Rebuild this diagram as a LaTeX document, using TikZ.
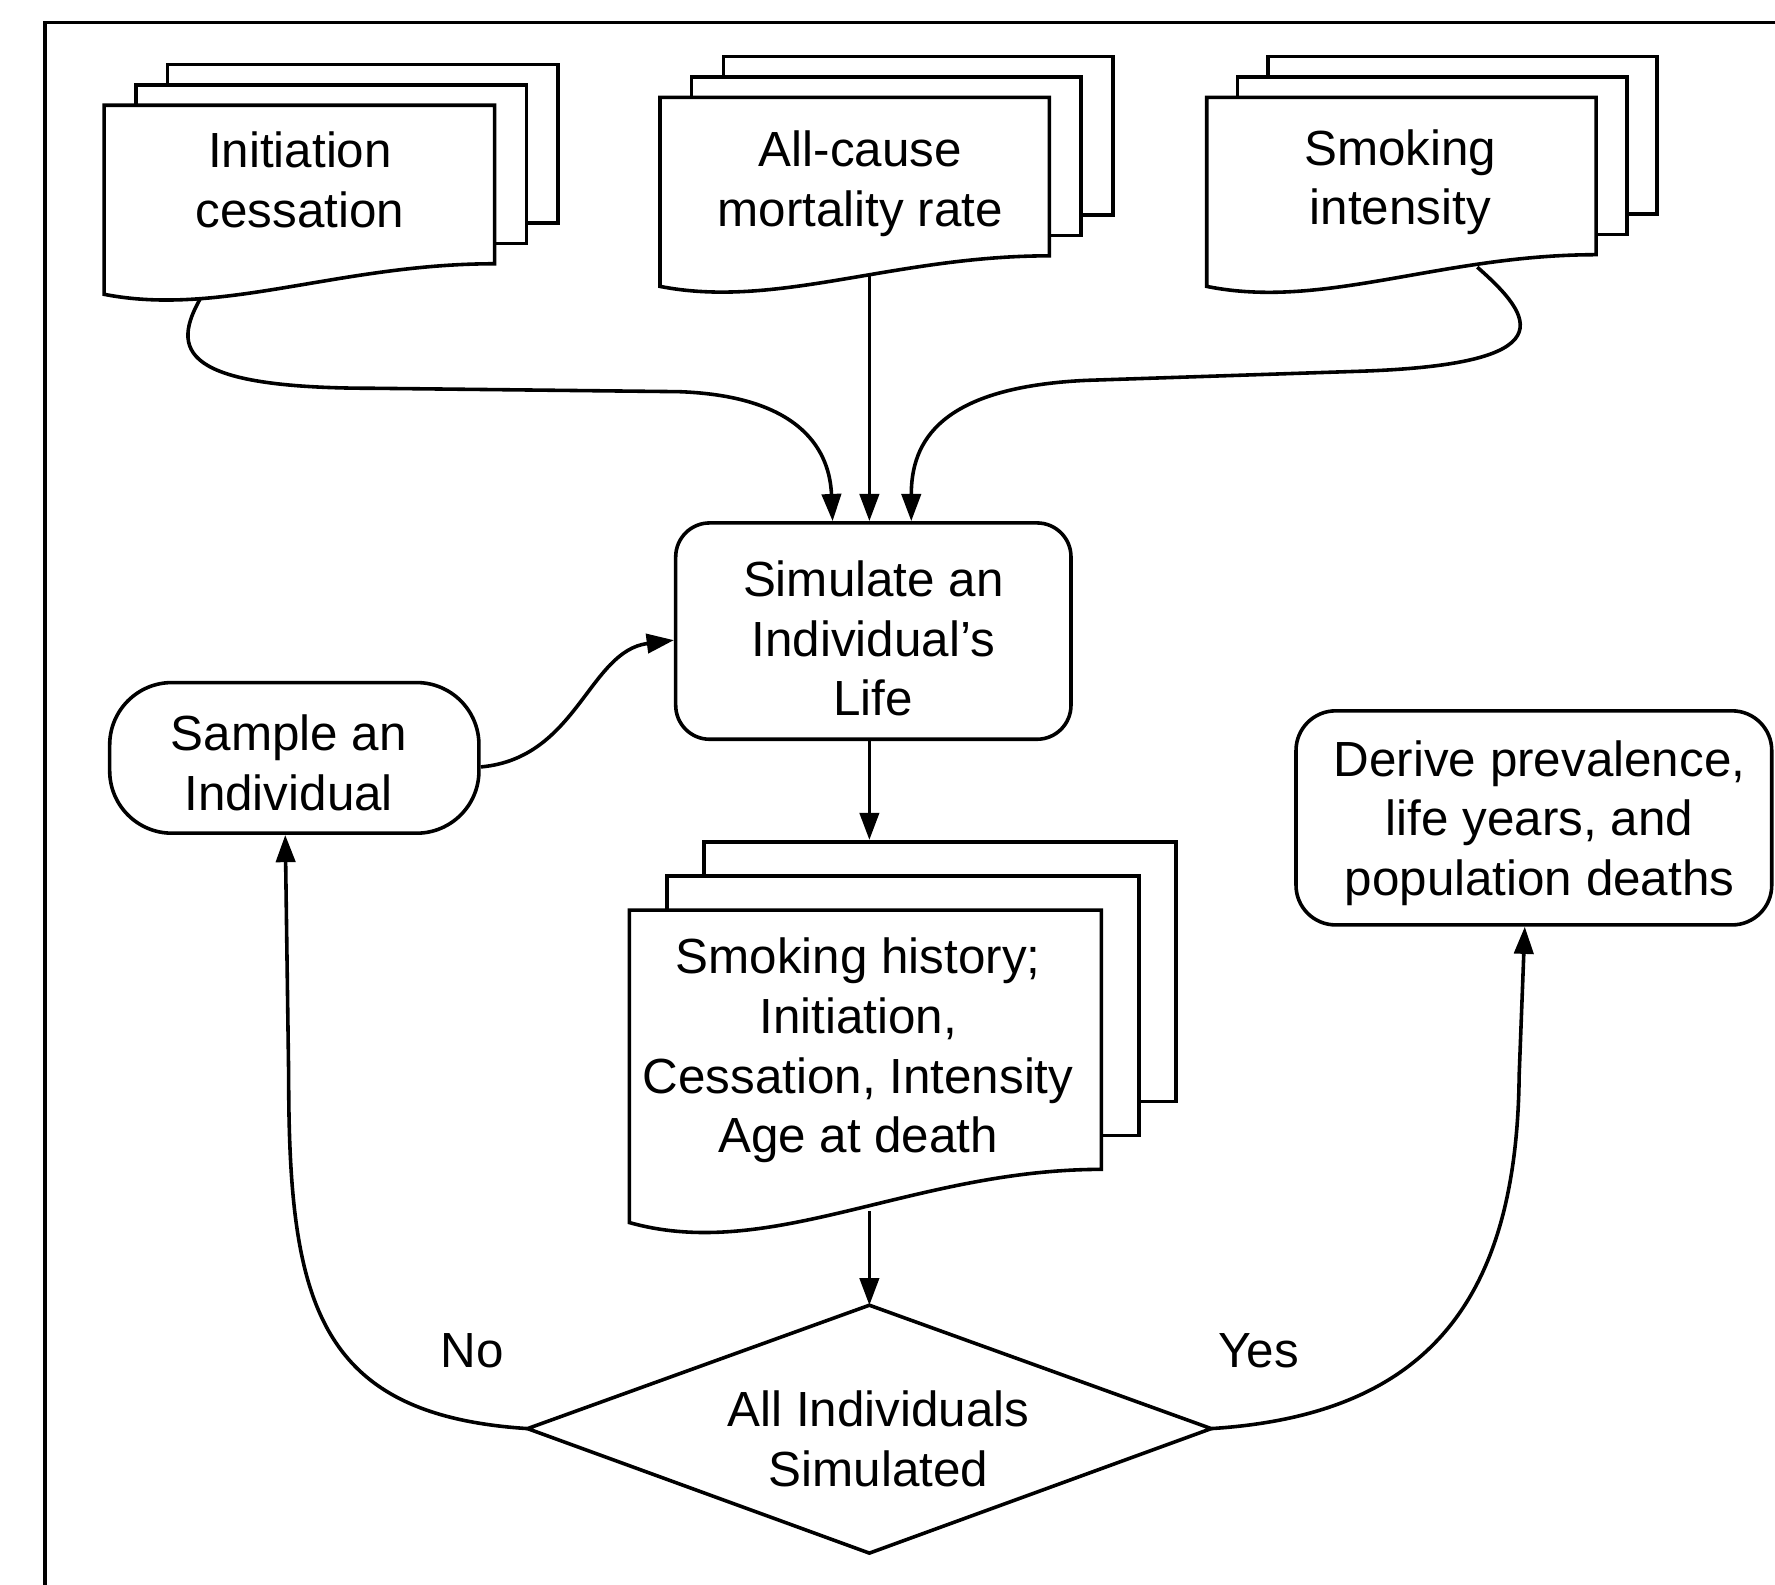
\documentclass[tikz,border=0pt]{standalone}
\usepackage{fontspec}
\setmainfont{Liberation Sans}
\usetikzlibrary{arrows.meta,calc}
\pgfdeclarelayer{bg}
\pgfsetlayers{bg,main}
% #1 L, #2 T, #3 R, #4 right-bottom, #5 left-bottom, #6 dx, #7 dy
\newcommand\docstack[7]{%
  \draw[sheet] ({#1+2*#6},{#2-2*#7}) rectangle ({#3+2*#6},{#4-2*#7});
  \draw[sheet] ({#1+#6},{#2-#7}) rectangle ({#3+#6},{#4-#7});
  \draw[sheet] (#1,#2) -- (#3,#2) -- (#3,#4)
     .. controls ({#3-0.4*(#3-#1)},#4) and ({#1+0.3*(#3-#1)},{#5+0.75*(#5-#4)}) .. (#1,#5) -- cycle;
}
\begin{document}
\begin{tikzpicture}[x=0.01cm,y=-0.01cm,
  line width=0.9pt,
  every node/.style={font=\fontsize{12.4}{15}\selectfont, align=center},
  arr/.style={line width=0.9pt, -{Triangle[length=0.24cm,width=0.17cm]}},
  sheet/.style={draw, fill=white, line join=miter},
  rbox/.style={draw, fill=white, inner sep=0pt},
]
\useasboundingbox (0,0) rectangle (1568,1400);
\clip (0,0) rectangle (1568,1400);
\draw (40,1450) -- (40,20) -- (1650,20);

% process boxes
\node[rbox, rounded corners=0.3cm, minimum width=3.49cm, minimum height=1.91cm] (sim) at (771.5,557.5) {};
\node (simt) at (771.5,564) {Simulate an\\Individual’s\\Life};
\node[rbox, rounded corners=0.55cm, minimum width=3.26cm, minimum height=1.33cm] (samp) at (260,669.5) {};
\node (sampt) at (255,674) {Sample an\\Individual};
\node[rbox, rounded corners=0.35cm, minimum width=4.2cm, minimum height=1.89cm] (der) at (1355,722.5) {};
\node (dert) at (1360,727) {Derive prevalence,\\life years, and\\population deaths};

% decision
\coordinate (dectop) at (768,1153);
\coordinate (decleft) at (466,1262);
\coordinate (decright) at (1070,1262);
\coordinate (decbot) at (768,1372);
\draw[fill=white, line join=miter] (dectop) -- (decright) -- (decbot) -- (decleft) -- cycle;
\node (dec) at (776,1271) {All Individuals\\Simulated};

% document stacks
\docstack{92}{93}{437}{233}{260}{28}{18}
\node (init) at (265,159) {Initiation\\cessation};
\docstack{583}{86}{927}{226}{253}{28}{18}
\node (allc) at (760,162) {All-cause\\mortality rate};
\docstack{1066}{86}{1410}{225}{253}{27}{18}
\node (smok) at (1237,161) {Smoking\\intensity};
\docstack{556}{804}{973}{1033}{1080}{33}{30}
\node (out) at (758,928) {Smoking history;\\Initiation,\\Cessation, Intensity\\Age at death};

\coordinate (init-s) at (178,262);
\coordinate (allc-s) at (768,240);
\coordinate (smok-s) at (1305,236);
\coordinate (out-s) at (768,1070);
\coordinate (out-t) at (768,742);

% labels
\node (no) at (417,1193) {No};
\node (yes) at (1112,1193) {Yes};

% connectors
\begin{pgfonlayer}{bg}
\draw[arr] (init-s) .. controls (150,310) and (160,343) .. (330,343) -- (600,346)
   .. controls (710,350) and (733,400) .. ($(sim.north)+(-36,0)$);
\draw[arr] (allc-s) -- (allc-s |- sim.north);
\draw[arr] (smok-s) .. controls (1355,280) and (1385,322) .. (1200,328) -- (960,336)
   .. controls (830,342) and (805,390) .. ($(sim.north)+(33.5,0)$);
\draw[arr] ($(samp.east)+(0,8)$) .. controls (510,670) and (520,575) .. ($(sim.west)+(0,8)$);
\draw[arr] (sim.south -| out-t) -- (out-t);
\draw[arr] (out-s) -- (dectop);
\draw[arr] (decleft) .. controls (280,1250) and (255,1150) .. (255,950) -- ($(samp.south)+(-8,0)$);
\draw[arr] (decright) .. controls (1260,1250) and (1340,1150) .. (1342,950) -- ($(der.south)+(-8,0)$);
\end{pgfonlayer}
\end{tikzpicture}
\end{document}
